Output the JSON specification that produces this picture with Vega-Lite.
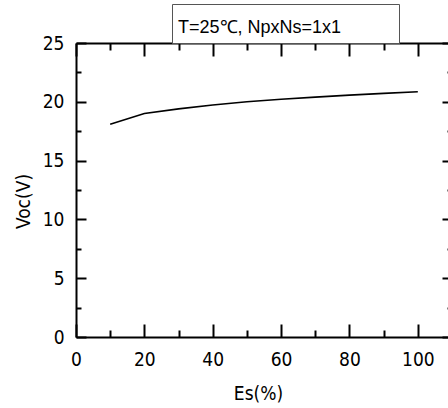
{
  "$schema": "https://vega.github.io/schema/vega-lite/v6.json",
  "width": 376,
  "height": 294,
  "autosize": {"type": "none"},
  "padding": {"left": 76, "top": 43, "right": -4, "bottom": 71},
  "background": "white",
  "config": {
    "view": {"stroke": null},
    "font": "DejaVu Sans Condensed, Liberation Sans, sans-serif",
    "axis": {
      "domainColor": "black",
      "domainWidth": 2,
      "tickColor": "black",
      "tickWidth": 2,
      "labelColor": "black",
      "labelFont": "DejaVu Sans Condensed, Liberation Sans, sans-serif",
      "labelFontSize": 19,
      "titleFont": "DejaVu Sans Condensed, Liberation Sans, sans-serif",
      "titleFontSize": 19,
      "titleFontWeight": "normal",
      "titleColor": "black",
      "grid": false,
      "labelFlush": false,
      "labelOverlap": false
    }
  },
  "data": {
    "values": [
      {"Es": 10, "Voc": 18.1},
      {"Es": 20, "Voc": 19.0},
      {"Es": 30, "Voc": 19.4},
      {"Es": 40, "Voc": 19.73},
      {"Es": 50, "Voc": 20.0},
      {"Es": 60, "Voc": 20.22},
      {"Es": 70, "Voc": 20.4},
      {"Es": 80, "Voc": 20.57},
      {"Es": 90, "Voc": 20.72},
      {"Es": 100, "Voc": 20.86}
    ]
  },
  "layer": [
    {
      "mark": {"type": "line", "strokeWidth": 1.6, "clip": true},
      "encoding": {
        "x": {
          "field": "Es", "type": "quantitative",
          "scale": {"domain": [0, 110], "nice": false, "zero": false},
          "axis": {
            "orient": "bottom",
            "title": "Es(%)",
            "titleX": 182,
            "values": [0, 10, 20, 30, 40, 50, 60, 70, 80, 90, 100, 110],
            "labelExpr": "datum.value % 20 === 0 && datum.value <= 100 ? datum.label : ''",
            "tickSize": {"condition": {"test": "datum.value % 20 === 0", "value": -13}, "value": -7},
            "labelPadding": 26,
            "titlePadding": 9
          }
        },
        "y": {
          "field": "Voc", "type": "quantitative",
          "scale": {"domain": [0, 25], "nice": false, "zero": false},
          "axis": {
            "orient": "left",
            "title": "Voc(V)",
            "titleY": 158,
            "values": [0, 2.5, 5, 7.5, 10, 12.5, 15, 17.5, 20, 22.5, 25],
            "labelExpr": "datum.value % 5 === 0 ? datum.label : ''",
            "tickSize": {"condition": {"test": "datum.value % 5 === 0", "value": -10}, "value": -5},
            "labelPadding": 22,
            "titlePadding": 9
          }
        },
        "color": {
          "datum": "T=25℃, NpxNs=1x1",
          "type": "nominal",
          "scale": {"range": ["black"]},
          "legend": {
            "orient": "none",
            "legendX": 96,
            "legendY": -39,
            "title": "T=25℃, NpxNs=1x1",
            "titleOrient": "left",
            "titlePadding": 33,
            "titleFont": "Liberation Sans, sans-serif",
            "titleFontSize": 18,
            "titleFontWeight": "normal",
            "titleColor": "black",
            "titleLimit": 500,
            "titleBaseline": "top",
            "strokeColor": "#555555",
            "fillColor": "white",
            "padding": 6,
            "symbolType": "circle",
            "symbolSize": 0,
            "symbolOpacity": 0,
            "symbolStrokeWidth": 0,
            "labelOffset": 0,
            "labelExpr": "''",
            "labelFontSize": 18
          }
        }
      }
    },
    {
      "mark": {"type": "line", "strokeOpacity": 0},
      "encoding": {
        "x": {
          "field": "Es", "type": "quantitative",
          "scale": {"domain": [0, 110], "nice": false, "zero": false},
          "axis": {
            "orient": "top",
            "title": null,
            "values": [0, 10, 20, 30, 40, 50, 60, 70, 80, 90, 100, 110],
            "labels": false,
            "tickSize": {"condition": {"test": "datum.value % 20 === 0", "value": -13}, "value": -7}
          }
        },
        "y": {
          "field": "Voc", "type": "quantitative",
          "scale": {"domain": [0, 25], "nice": false, "zero": false},
          "axis": {
            "orient": "right",
            "title": null,
            "values": [0, 2.5, 5, 7.5, 10, 12.5, 15, 17.5, 20, 22.5, 25],
            "labels": false,
            "tickSize": {"condition": {"test": "datum.value % 5 === 0", "value": -10}, "value": -5}
          }
        }
      }
    }
  ],
  "resolve": {"axis": {"x": "independent", "y": "independent"}}
}
